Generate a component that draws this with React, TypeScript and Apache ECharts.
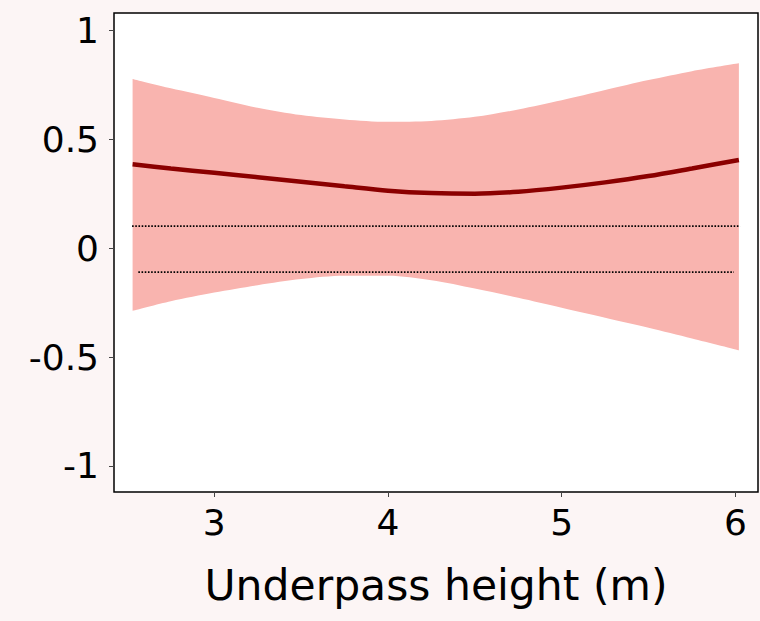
import React, { useEffect, useRef } from "react";
import * as echarts from "echarts";

// x positions (m) where values were read
const xValues = [2.53, 2.75, 3.0, 3.25, 3.5, 3.75, 4.0, 4.25, 4.5, 4.75, 5.0, 5.25, 5.5, 5.75, 6.02];
const meanValues = [0.385, 0.366, 0.346, 0.326, 0.305, 0.284, 0.264, 0.253, 0.25, 0.259, 0.278, 0.302, 0.331, 0.366, 0.405];
const upperValues = [0.777, 0.734, 0.69, 0.645, 0.611, 0.591, 0.58, 0.584, 0.603, 0.637, 0.679, 0.726, 0.772, 0.813, 0.849];
const lowerValues = [-0.288, -0.244, -0.204, -0.17, -0.142, -0.127, -0.127, -0.147, -0.185, -0.228, -0.274, -0.32, -0.366, -0.415, -0.469];

const refUpperX = [2.527, 6.027];
const refUpperY = 0.101;
const refLowerX = [2.563, 5.992];
const refLowerY = -0.11;

const xTicks = [3, 4, 5, 6];
const yTicks = [-1, -0.5, 0, 0.5, 1];

const FONT = "DejaVu Sans";

export default function App() {
  const ref = useRef<HTMLDivElement>(null);
  useEffect(() => {
    if (!ref.current) return;
    const chart = echarts.init(ref.current, null, { renderer: "svg" });
    // value first, x second, so that stacking acts on the y value
    const lowerData = xValues.map((x, i) => [lowerValues[i], x]);
    const widthData = xValues.map((x, i) => [upperValues[i] - lowerValues[i], x]);
    const meanData = xValues.map((x, i) => [x, meanValues[i]]);
    chart.setOption({
      animation: false,
      backgroundColor: "#fcf5f5",
      grid: {
        left: 114,
        top: 13,
        right: 2,
        bottom: 129,
        show: true,
        backgroundColor: "#ffffff",
        borderColor: "#000000",
        borderWidth: 1.5,
      },
      xAxis: {
        type: "value",
        min: 2.423,
        max: 6.13,
        splitLine: { show: false },
        axisLine: { show: false, onZero: false },
        axisTick: {
          show: true,
          customValues: xTicks,
          length: 5,
          lineStyle: { color: "#444", width: 1 },
        },
        axisLabel: {
          customValues: xTicks,
          color: "#000",
          fontFamily: FONT,
          fontSize: 36,
          margin: 12,
        },
        name: "Underpass height (m)",
        nameLocation: "middle",
        nameGap: 72,
        nameTextStyle: { color: "#000", fontFamily: FONT, fontSize: 42.5 },
      },
      yAxis: {
        type: "value",
        min: -1.12,
        max: 1.08,
        splitLine: { show: false },
        axisLine: { show: false, onZero: false },
        axisTick: {
          show: true,
          customValues: yTicks,
          length: 5,
          lineStyle: { color: "#444", width: 1 },
        },
        axisLabel: {
          customValues: yTicks,
          color: "#000",
          fontFamily: FONT,
          fontSize: 36,
          margin: 15,
          formatter: (v: number) => String(v),
        },
      },
      series: [
        {
          type: "line",
          data: lowerData,
          dimensions: ["val", "xv"],
          encode: { x: 1, y: 0 },
          stack: "band",
          stackStrategy: "all",
          smooth: 0.3,
          symbol: "none",
          lineStyle: { opacity: 0 },
          silent: true,
        },
        {
          type: "line",
          data: widthData,
          dimensions: ["val", "xv"],
          encode: { x: 1, y: 0 },
          stack: "band",
          stackStrategy: "all",
          smooth: 0.3,
          symbol: "none",
          lineStyle: { opacity: 0 },
          areaStyle: { color: "#f9b4af", opacity: 1 },
          silent: true,
        },
        {
          type: "line",
          data: [
            [refUpperX[0], refUpperY],
            [refUpperX[1], refUpperY],
          ],
          symbol: "none",
          lineStyle: { color: "#000", width: 1.6, type: [1.6, 1.6] },
          silent: true,
        },
        {
          type: "line",
          data: [
            [refLowerX[0], refLowerY],
            [refLowerX[1], refLowerY],
          ],
          symbol: "none",
          lineStyle: { color: "#000", width: 1.6, type: [1.6, 1.6] },
          silent: true,
        },
        {
          type: "line",
          data: meanData,
          smooth: 0.3,
          symbol: "none",
          lineStyle: { color: "#8b0000", width: 4.5 },
          silent: true,
        },
      ],
    });
    return () => chart.dispose();
  }, []);
  return (
    <div
      ref={ref}
      style={{ position: "fixed", left: 0, top: 0, width: 760, height: 621 }}
    />
  );
}
